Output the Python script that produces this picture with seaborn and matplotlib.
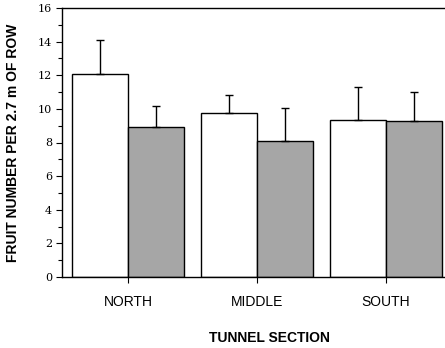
import matplotlib
matplotlib.use("Agg")
import matplotlib.pyplot as plt
import seaborn as sns
import pandas as pd
import numpy as np

sections = ["NORTH", "MIDDLE", "SOUTH"]
series = ["Treatment 1", "Treatment 2"]
means_1 = [12.1, 9.75, 9.35]
means_2 = [8.9, 8.1, 9.3]
err_1 = [2.0, 1.1, 1.95]
err_2 = [1.25, 1.95, 1.7]

df = pd.DataFrame({
    "section": sections * 2,
    "series": [series[0]] * 3 + [series[1]] * 3,
    "value": means_1 + means_2,
    "err": err_1 + err_2,
})

sns.set_style("ticks")
plt.rcParams["text.color"] = "black"
plt.rcParams["axes.labelcolor"] = "black"
plt.rcParams["xtick.color"] = "black"
plt.rcParams["ytick.color"] = "black"

fig = plt.figure(figsize=(4.45, 3.48), dpi=100)
ax = fig.add_axes([62 / 445, 71 / 348, 383 / 445, 269 / 348])

sns.barplot(data=df, x="section", y="value", hue="series", order=sections,
            hue_order=series, palette=["white", "#a6a6a6"], width=0.875,
            edgecolor="black", linewidth=1.0, errorbar=None, legend=False,
            saturation=1, ax=ax)

bars = ax.patches

# upward-only error bars
for i, p in enumerate(bars[:6]):
    s = i // 3
    k = i % 3
    x = p.get_x() + p.get_width() / 2
    y = p.get_height()
    e = (err_1 if s == 0 else err_2)[k]
    ax.errorbar([x], [y], yerr=[[0], [e]], fmt="none", ecolor="black",
                elinewidth=1.0, capsize=3, capthick=1.0)

ax.set_xlim(-0.512, 2.457)
ax.set_ylim(0, 16)
ax.set_yticks(np.arange(0, 17, 2))
ax.set_yticks(np.arange(1, 16, 2), minor=True)
ax.set_yticklabels([str(v) for v in range(0, 17, 2)], family="DejaVu Serif",
                   fontsize=8)
ax.tick_params(axis="y", which="major", length=4, width=0.8, direction="out", pad=3)
ax.tick_params(axis="y", which="minor", length=3, width=0.8, direction="out")
ax.tick_params(axis="x", length=4, width=0.8, direction="out", pad=9)
ax.set_xticks([0, 1, 2])
ax.set_xticklabels(sections, family="Liberation Sans", fontsize=10)
ax.set_xlabel("TUNNEL SECTION", family="Liberation Sans", fontweight="bold",
              fontsize=10)
ax.xaxis.set_label_coords((269 - 62) / 383, -0.2)
ax.set_ylabel("FRUIT NUMBER PER 2.7 m OF ROW", family="Liberation Sans",
              fontweight="bold", fontsize=10)
ax.yaxis.set_label_coords(-0.11, 0.5)

ax.spines["right"].set_visible(False)
for sp in ["left", "top", "bottom"]:
    ax.spines[sp].set_linewidth(1.0)
    ax.spines[sp].set_color("black")

fig.savefig("out.png", dpi=100)
